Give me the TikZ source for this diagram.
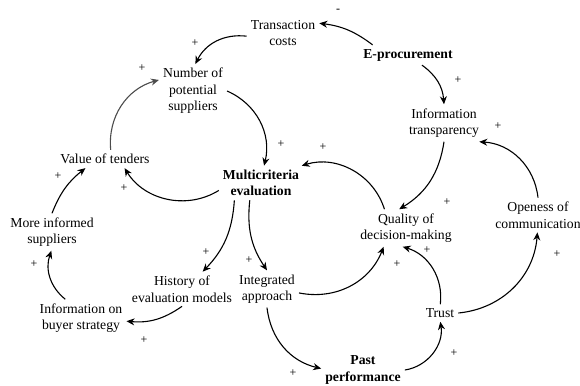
\documentclass[tikz,border=0pt]{standalone}
\usepackage{fontspec}
\setmainfont{Liberation Serif}
\newfontfamily\loopfont{Liberation Serif}
\usetikzlibrary{arrows.meta}

\begin{document}
\begin{tikzpicture}[
    x=1pt, y=-1pt,
    var_style/.style={align=center, inner sep=4pt, font=\loopfont\fontsize{13.7}{16.5}\selectfont},
    key_style/.style={var_style, font=\loopfont\fontsize{13.7}{16.5}\selectfont\bfseries},
    link_style/.style={-{Stealth[length=8pt, width=7pt]}, line width=1.1pt, black},
    sign_style/.style={font=\loopfont\fontsize{12}{12}\selectfont, inner sep=0pt}
]

    \useasboundingbox (0,0) rectangle (580,385);

    % Variables
    \node[var_style] (trans) at (283,33) {Transaction\\costs};
    \node[key_style] (eproc) at (408,55) {E-procurement};
    \node[var_style] (num) at (193,91) {Number of\\potential\\suppliers};
    \node[var_style] (info) at (444,123) {Information\\transparency};
    \node[key_style] (multi) at (261,183) {Multicriteria\\evaluation};
    \node[var_style] (value) at (105,159) {Value of tenders};
    \node[var_style] (quality) at (406,228) {Quality of\\decision-making};
    \node[var_style] (open) at (538,215) {Openess of\\communication};
    \node[var_style] (more) at (52,232) {More informed\\suppliers};
    \node[var_style] (hist) at (182,289) {History of\\evaluation models};
    \node[var_style] (integ) at (267,289) {Integrated\\approach};
    \node[var_style] (buyer) at (81,318) {Information on\\buyer strategy};
    \node[var_style] (trust) at (440,313) {Trust};
    \node[key_style] (past) at (363,370) {Past\\performance};

    % Causal links
    \draw[link_style] (eproc.164) to[bend right=15] (trans.15);
    \draw[link_style] (trans.185) to[bend right=35] (num.85);
    \draw[link_style] (num.0) to[bend left=40] (multi.80);
    \draw[link_style] (multi.190) to[bend left=45] (value.-25);
    \draw[link_style, black!70] (value.58) to[bend left=40] (num.162);
    \draw[link_style] (more.90) to[bend left=15] (value.205);
    \draw[link_style] (buyer.130) to[bend left=35] (more.-92);
    \draw[link_style] (hist.-90) to[bend left=20] (buyer.-4);
    \draw[link_style] (multi.-147) to[bend left=20] (hist.40);
    \draw[link_style] (multi.237) to[bend right=20] (integ.north);
    \draw[link_style] (integ.south) to[bend right=35] (past.178);
    \draw[link_style] (integ.-7) to[bend right=40] (quality.220);
    \draw[link_style] (past.0) to[bend right=45] (trust.-88);
    \draw[link_style] (trust.88) to[bend right=40] (quality.-100);
    \draw[link_style] (trust.east) to[bend right=40] (open.-92);
    \draw[link_style] (open.north) to[bend right=40] (info.-28);
    \draw[link_style] (eproc.-36) to[bend left=25] (info.north);
    \draw[link_style] (info.south) to[bend left=25] (quality.110);
    \draw[link_style] (quality.139) to[bend right=45] (multi.23);

    % Polarities
    \node[sign_style] (p1) at (338,11) {-};
    \node[sign_style] (p2) at (195,43) {+};
    \node[sign_style] (p3) at (142,68) {+};
    \node[sign_style] (p4) at (281,144) {+};
    \node[sign_style] (p5) at (124,188) {+};
    \node[sign_style] (p6) at (58,176) {+};
    \node[sign_style] (p7) at (34,264) {+};
    \node[sign_style] (p8) at (144,340) {+};
    \node[sign_style] (p9) at (206,252) {+};
    \node[sign_style] (p10) at (249,260) {+};
    \node[sign_style] (p11) at (293,373) {+};
    \node[sign_style] (p12) at (397,264) {+};
    \node[sign_style] (p13) at (454,353) {+};
    \node[sign_style] (p14) at (427,250) {+};
    \node[sign_style] (p15) at (557,254) {+};
    \node[sign_style] (p16) at (498,126) {+};
    \node[sign_style] (p17) at (458,80) {+};
    \node[sign_style] (p18) at (447,202) {+};
    \node[sign_style] (p19) at (323,147) {+};

\end{tikzpicture}
\end{document}
